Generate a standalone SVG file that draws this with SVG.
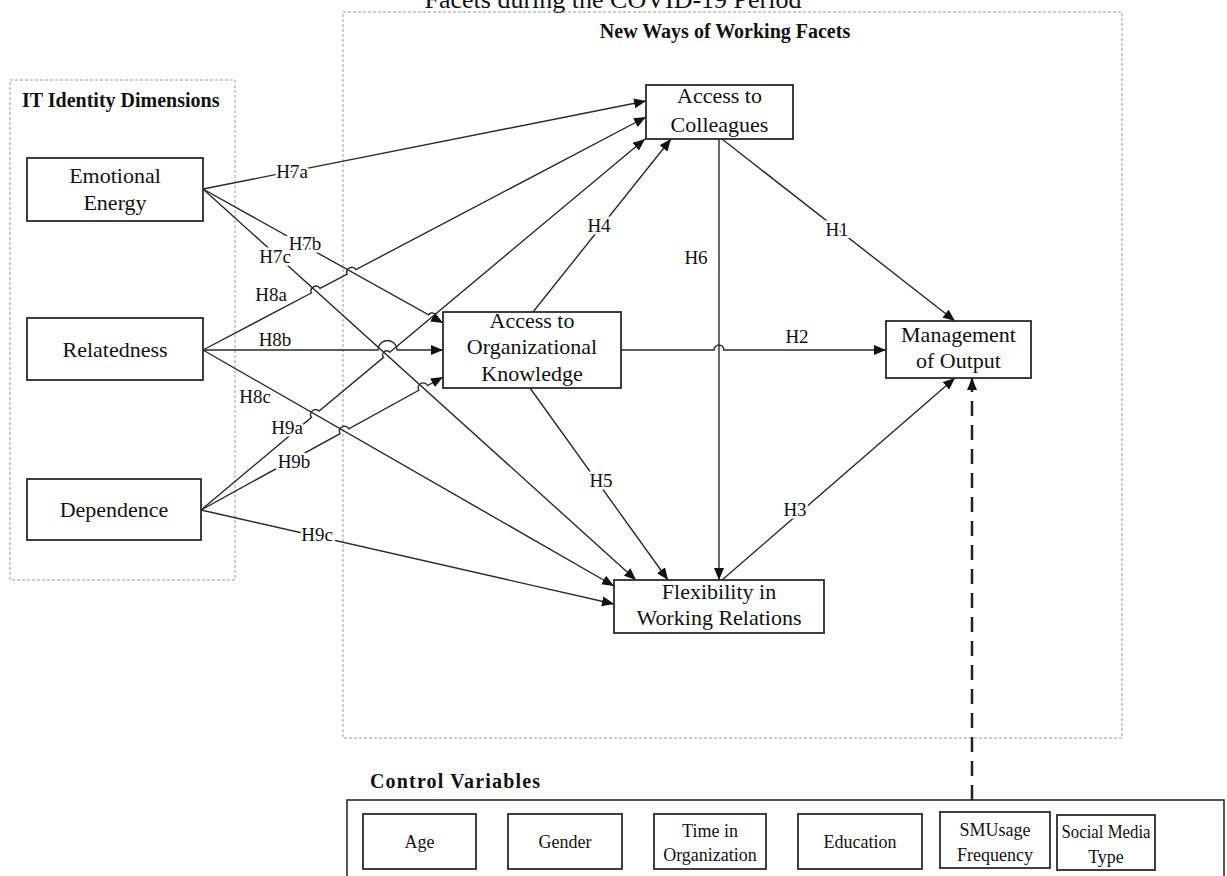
<svg xmlns="http://www.w3.org/2000/svg" width="1227" height="876" viewBox="0 0 1227 876">
  <defs>
    <marker id="ah" markerWidth="12" markerHeight="10" refX="12" refY="5" orient="auto" markerUnits="userSpaceOnUse">
      <path d="M0,0 L12,5 L0,10 z" fill="#111"/>
    </marker>
    <style>
      .grp { fill: none; stroke: #9a9a9a; stroke-width: 1; stroke-dasharray: 3 2; }
      .box { fill: #fff; stroke: #2b2b2b; stroke-width: 1.8; }
      .node { font-family: "Liberation Serif", "Times New Roman", serif; font-size: 22px; fill: #111; text-anchor: middle; }
      .ctl { font-family: "Liberation Serif", "Times New Roman", serif; font-size: 18px; fill: #111; text-anchor: middle; }
      .head { font-family: "Liberation Serif", "Times New Roman", serif; font-size: 20px; font-weight: bold; fill: #111; }
      .edge { fill: none; stroke: #2a2a2a; stroke-width: 1.4; marker-end: url(#ah); }
      .ctrl { fill: none; stroke: #222; stroke-width: 2.5; stroke-dasharray: 15 9; marker-end: url(#ah); }
      .lbl { font-family: "Liberation Serif", "Times New Roman", serif; font-size: 19px; fill: #111; text-anchor: middle; stroke: #fff; stroke-width: 5; paint-order: stroke; stroke-linejoin: round; }
    </style>
  </defs>

  <rect width="1227" height="876" fill="#fff"/>

  <!-- caption line, running off the top edge -->
  <text x="613" y="8" style="font-family: 'Liberation Serif', 'Times New Roman', serif; font-size: 26px; fill: #111; text-anchor: middle;">Facets during the COVID-19 Period</text>

  <!-- grouping frames -->
  <g id="frames">
    <rect class="grp" x="10" y="80" width="225" height="500"/>
    <text class="head" x="22" y="107">IT Identity Dimensions</text>
    <rect class="grp" x="343" y="12" width="779" height="726"/>
    <text class="head" x="725" y="38" text-anchor="middle">New Ways of Working Facets</text>
  </g>

  <!-- connectors -->
  <g id="connectors">
    <path class="edge" d="M203,189 L646,101"/>
    <path class="edge" d="M203,189 L428.6,314.9 A4,4 0 0 1 435.6,318.8 L443,323"/>
    <path class="edge" d="M203,189 L636,580"/>
    <path class="edge" d="M203,350 L311.3,293.0 A5,5 0 0 1 320.1,288.4 L347.1,274.2 A5,5 0 0 1 355.9,269.6 L646,117"/>
    <path class="edge" d="M203,350 L378,350 A9.5,9.5 0 0 1 397,350 L443,350"/>
    <path class="edge" d="M203,350 L614,586"/>
    <path class="edge" d="M201,510 L311.5,417.4 A5,5 0 0 1 319.1,411.0 L383.6,357.4 A4,4 0 0 1 389.8,352.2 L645,139"/>
    <path class="edge" d="M201,510 L340.0,433.6 A5,5 0 0 1 348.8,428.8 L418.8,390.3 A5,5 0 0 1 427.6,385.5 L443,377"/>
    <path class="edge" d="M201,510 L614,604"/>
    <path class="edge" d="M533,312 L671,139"/>
    <path class="edge" d="M530,388 L668,580"/>
    <path class="edge" d="M719,139 L719,580"/>
    <path class="edge" d="M722,139 L955,321"/>
    <path class="edge" d="M621,350 L714,350 A5,5 0 0 1 724,350 L886,350"/>
    <path class="edge" d="M722,580 L955,378"/>
    <path class="ctrl" d="M972,800 L972,378"/>

    <text class="lbl" x="292" y="178">H7a</text>
    <text class="lbl" x="305" y="250">H7b</text>
    <text class="lbl" x="275" y="263">H7c</text>
    <text class="lbl" x="271" y="301">H8a</text>
    <text class="lbl" x="275" y="346">H8b</text>
    <text class="lbl" x="255" y="403">H8c</text>
    <text class="lbl" x="287" y="434">H9a</text>
    <text class="lbl" x="294" y="468">H9b</text>
    <text class="lbl" x="317" y="541">H9c</text>
    <text class="lbl" x="599" y="232">H4</text>
    <text class="lbl" x="696" y="264">H6</text>
    <text class="lbl" x="837" y="236">H1</text>
    <text class="lbl" x="797" y="343">H2</text>
    <text class="lbl" x="601" y="487">H5</text>
    <text class="lbl" x="795" y="516">H3</text>
  </g>

  <!-- IT identity dimensions -->
  <g id="emotional-energy">
    <rect class="box" x="27" y="158" width="176" height="63"/>
    <text class="node" x="115" y="183">Emotional</text>
    <text class="node" x="115" y="210">Energy</text>
  </g>
  <g id="relatedness">
    <rect class="box" x="27" y="318" width="176" height="62"/>
    <text class="node" x="115" y="357">Relatedness</text>
  </g>
  <g id="dependence">
    <rect class="box" x="27" y="479" width="174" height="61"/>
    <text class="node" x="114" y="517">Dependence</text>
  </g>

  <!-- new ways of working facets -->
  <g id="access-colleagues">
    <rect class="box" x="646" y="85" width="147" height="54"/>
    <text class="node" x="719.5" y="103">Access to</text>
    <text class="node" x="719.5" y="132">Colleagues</text>
  </g>
  <g id="access-knowledge">
    <rect class="box" x="443" y="312" width="178" height="76"/>
    <text class="node" x="532" y="328">Access to</text>
    <text class="node" x="532" y="354">Organizational</text>
    <text class="node" x="532" y="381">Knowledge</text>
  </g>
  <g id="management-output">
    <rect class="box" x="886" y="321" width="145" height="57"/>
    <text class="node" x="958.5" y="342">Management</text>
    <text class="node" x="958.5" y="368">of Output</text>
  </g>
  <g id="flexibility">
    <rect class="box" x="614" y="580" width="210" height="53"/>
    <text class="node" x="719" y="599">Flexibility in</text>
    <text class="node" x="719" y="625">Working Relations</text>
  </g>

  <!-- control variables -->
  <g id="control-variables">
    <text class="head" x="370" y="788" textLength="170" lengthAdjust="spacing">Control Variables</text>
    <rect x="347" y="800" width="877" height="100" fill="none" stroke="#2b2b2b" stroke-width="1.6"/>
  </g>
  <g id="cv-age">
    <rect class="box" x="363" y="814" width="113" height="55"/>
    <text class="ctl" x="419.5" y="848">Age</text>
  </g>
  <g id="cv-gender">
    <rect class="box" x="508" y="814" width="114" height="55"/>
    <text class="ctl" x="565" y="848">Gender</text>
  </g>
  <g id="cv-time">
    <rect class="box" x="654" y="814" width="112" height="55"/>
    <text class="ctl" x="710" y="837">Time in</text>
    <text class="ctl" x="710" y="861">Organization</text>
  </g>
  <g id="cv-education">
    <rect class="box" x="798" y="814" width="124" height="55"/>
    <text class="ctl" x="860" y="848">Education</text>
  </g>
  <g id="cv-sm-usage">
    <rect class="box" x="940" y="812" width="110" height="56"/>
    <text class="ctl" x="995" y="836">SMUsage</text>
    <text class="ctl" x="995" y="861">Frequency</text>
  </g>
  <g id="cv-sm-type">
    <rect class="box" x="1057" y="815" width="98" height="55"/>
    <text class="ctl" x="1106" y="838" textLength="89" lengthAdjust="spacingAndGlyphs">Social Media</text>
    <text class="ctl" x="1106" y="863">Type</text>
  </g>
</svg>
